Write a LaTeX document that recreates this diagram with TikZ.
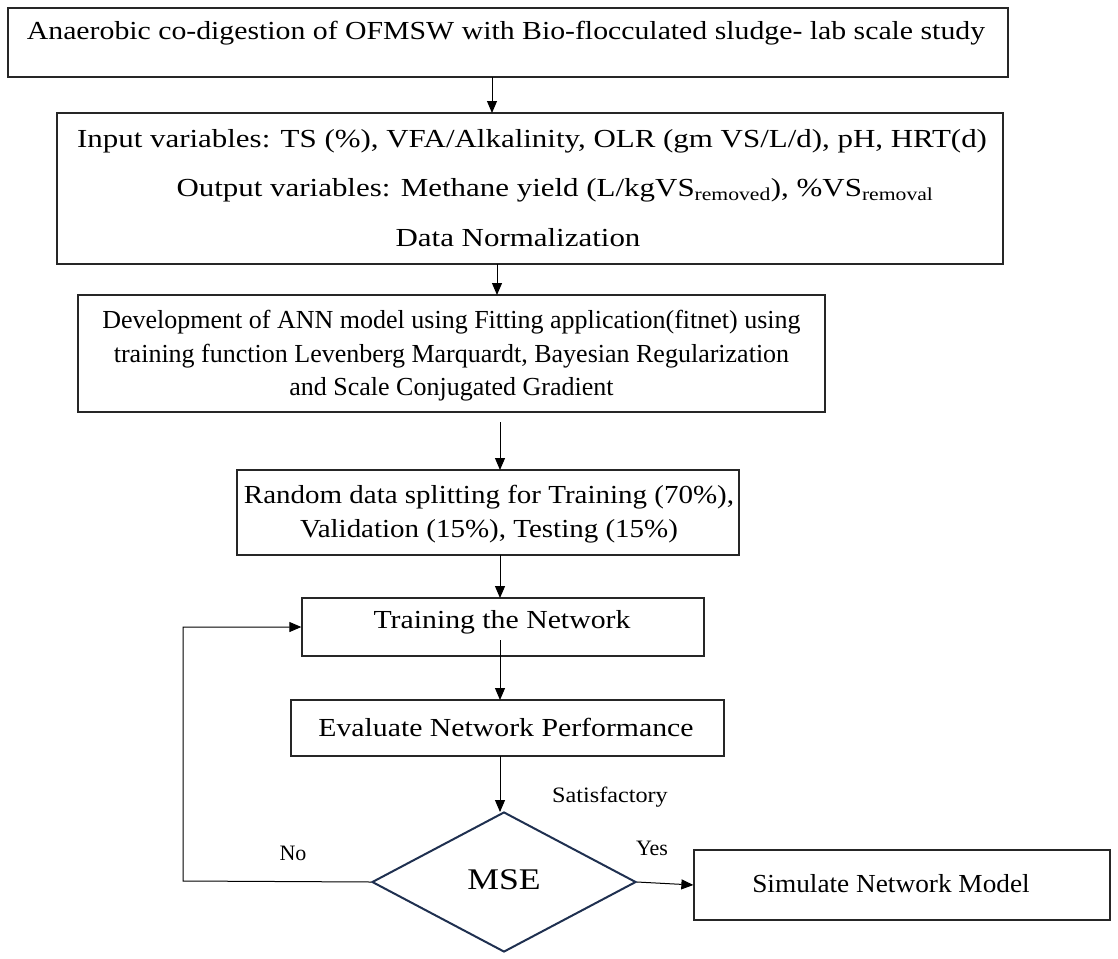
\documentclass[tikz,border=0pt]{standalone}
\usepackage{fontspec}
\setmainfont{Liberation Serif}
\newfontfamily\stA[FakeStretch=1.145]{Liberation Serif}
\newfontfamily\stB[FakeStretch=1.19]{Liberation Serif}
\newfontfamily\stD[FakeStretch=1.115]{Liberation Serif}
\newfontfamily\stF[FakeStretch=1.05]{Liberation Serif}
\newfontfamily\stH[FakeStretch=1.1]{Liberation Serif}
\usetikzlibrary{arrows.meta,shapes.geometric}
\definecolor{navy}{HTML}{1F3050}
\tikzset{
  box/.style={draw=black!85, line width=1.3pt, fill=white, inner sep=0pt},
  txt/.style={font=\fontsize{26}{34}\selectfont, align=center, inner sep=0pt},
  lbl/.style={font=\fontsize{22}{24}\selectfont, inner sep=0pt},
  arr/.style={line width=1pt, -{Triangle[length=12pt,width=10pt]}},
}
\begin{document}
\begin{tikzpicture}[x=1pt,y=-1pt]
\useasboundingbox (0,0) rectangle (1118,958);
% boxes
\node[box, minimum width=1000pt, minimum height=69pt] (b1) at (508,42.5) {};
\node[txt, font=\fontsize{26}{34}\stA] (t1) at (506,33) {Anaerobic co-digestion of OFMSW with Bio-flocculated sludge- lab scale study};
\node[box, minimum width=946pt, minimum height=151pt] (b2) at (530,188.5) {};
\node[txt, font=\fontsize{26}{34}\stB] (t2a) at (532,141) {Input variables: TS (\%), VFA/Alkalinity, OLR (gm VS/L/d), pH, HRT(d)};
\node[txt, font=\fontsize{26}{34}\stB] (t2b) at (555,190) {Output variables: Methane yield (L/kgVS\textsubscript{removed}), \%VS\textsubscript{removal}};
\node[txt, font=\fontsize{26}{34}\stB] (t2c) at (518,238) {Data Normalization};
\node[box, minimum width=747pt, minimum height=117pt] (b3) at (451.5,353.5) {};
\node[txt, font=\fontsize{26}{33.5}\selectfont] (t3) at (451.5,356) {Development of ANN model using Fitting application(fitnet) using\\training function Levenberg Marquardt, Bayesian Regularization\\and Scale Conjugated Gradient};
\node[box, minimum width=502pt, minimum height=85pt] (b4) at (488,512.5) {};
\node[txt, font=\fontsize{26}{34}\stD] (t4) at (489,514) {Random data splitting for Training (70\%),\\Validation (15\%), Testing (15\%)};
\node[box, minimum width=402pt, minimum height=58pt] (b5) at (503,627) {};
\node[txt, font=\fontsize{26}{34}\stA] (t5) at (502,622) {Training the Network};
\node[box, minimum width=433pt, minimum height=56pt] (b6) at (507.5,728) {};
\node[txt, font=\fontsize{26}{34}\stA] (t6) at (506,727) {Evaluate Network Performance};
\node[draw=navy, line width=2pt, diamond, minimum width=264pt, minimum height=140pt, inner sep=0pt, aspect=1.886] (d) at (504,882) {};
\node[txt, font=\fontsize{30}{34}\stB] (t7) at (504,880) {MSE};
\node[box, minimum width=416pt, minimum height=70pt] (b7) at (902,885) {};
\node[txt, font=\fontsize{26}{34}\stF] (t8) at (891,884) {Simulate Network Model};
% labels
\node[lbl, font=\fontsize{22}{24}\stH] (ls) at (610,797) {Satisfactory};
\node[lbl] (lno) at (293,853) {No};
\node[lbl] (lyes) at (652,848) {Yes};
% connectors
\draw[arr] (492,77) -- (492,113);
\draw[arr] (497,264) -- (497,295);
\draw[arr] (500,422) -- (500,470);
\draw[arr] (500,555) -- (500,598);
\draw[arr] (500,640) -- (500,700);
\draw[arr] (500,756) -- (500,812);
\draw[arr] (d.east) -- (b7.west);
\coordinate (lp1) at (183,881);
\coordinate (lp2) at (183,627);
\draw[arr] (d.west) -- (lp1) -- (lp2) -- (b5.west);
\end{tikzpicture}
\end{document}
